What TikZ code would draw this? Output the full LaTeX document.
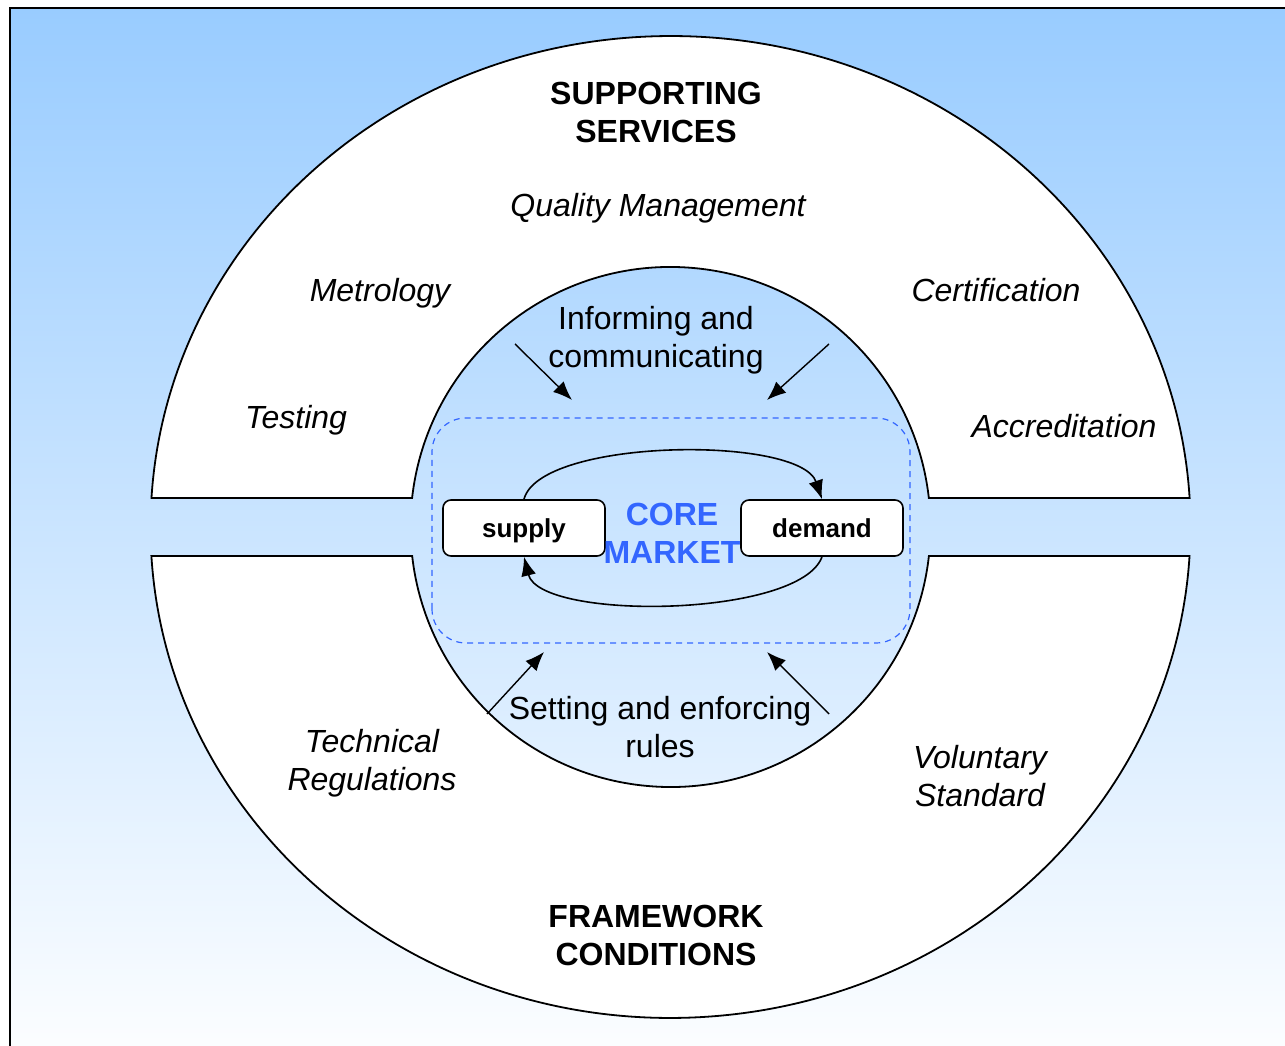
\documentclass[tikz,border=0pt]{standalone}
\usepackage{fontspec}
\setmainfont{Liberation Sans}
\usetikzlibrary{arrows.meta}
\definecolor{skytop}{HTML}{99CCFF}
\definecolor{coreblue}{HTML}{3366FF}
\begin{document}
\begin{tikzpicture}[x=0.5pt,y=0.5pt,
  lbl/.style={font=\fontsize{16}{19}\selectfont, align=center, inner sep=0pt},
  itlbl/.style={lbl, font=\fontsize{16}{19}\selectfont\itshape},
  head/.style={lbl, font=\fontsize{16}{19}\selectfont\bfseries},
  marketbox/.style={draw, fill=white, line width=0.8pt, rounded corners=4pt,
    minimum width=81pt, minimum height=28pt, inner sep=0pt,
    text height=9.4pt, text depth=0pt,
    font=\fontsize{13}{15}\selectfont\bfseries},
  ring/.style={fill=white, draw=black, line width=0.9pt},
  influence/.style={line width=0.7pt, -{Latex[length=9.5pt,width=7.5pt]}},
  flow/.style={line width=0.8pt, -{Latex[length=9.5pt,width=7.5pt]}}]
\useasboundingbox (0,0) rectangle (1285,1045);
\clip (0,0) rectangle (1285,1045);
\fill[white] (0,0) rectangle (1285,1045);

% sky background panel
\shade[top color=skytop, bottom color=white] (10,-40) rectangle (1320,1037);
\draw[line width=1.2pt] (10,-40) rectangle (1320,1037);

% upper half ring: supporting services
\path[ring] (1189.6,547) arc[start angle=3.39, end angle=176.61, x radius=520, y radius=491]
  -- (412.1,547) arc[start angle=173.6, end angle=6.4, radius=260] -- cycle;
% lower half ring: framework conditions
\path[ring] (151.4,489) arc[start angle=183.39, end angle=356.61, x radius=520, y radius=491]
  -- (928.9,489) arc[start angle=353.6, end angle=186.4, radius=260] -- cycle;

% core market frame
\draw[coreblue, line width=0.6pt, dash pattern=on 3pt off 2.5pt, rounded corners=17pt]
  (432,402) rectangle (910,627);

% supply and demand
\node[marketbox] (supply) at (524,517) {supply};
\node[marketbox] (demand) at (822,517) {demand};
\node[head, text=coreblue] (core) at (672,512) {CORE\\MARKET};

\draw[flow] (supply.north) .. controls (540,607) and (800,610) .. (demand.north);
\draw[flow] (demand.south) .. controls (800,427) and (540,424) .. (supply.south);

% labels
\node[head] (supp) at (656,933) {SUPPORTING\\SERVICES};
\node[itlbl] (qm) at (658,837) {Quality Management};
\node[itlbl] (metro) at (380,752) {Metrology};
\node[itlbl] (cert) at (996,755) {Certification};
\node[itlbl] (test) at (296,625) {Testing};
\node[itlbl] (accr) at (1064,619) {Accreditation};
\node[lbl] (inform) at (656,705) {Informing and\\communicating};
\node[lbl] (rules) at (660,318) {Setting and enforcing\\rules};
\node[itlbl] (techreg) at (372,282) {Technical\\Regulations};
\node[itlbl] (volstd) at (980,269) {Voluntary\\Standard};
\node[head] (frame) at (656,110) {FRAMEWORK\\CONDITIONS};

% influence arrows
\coordinate (i1s) at (515,701);
\coordinate (i1e) at (572,645);
\coordinate (i2s) at (829,701);
\coordinate (i2e) at (767,645);
\coordinate (r1s) at (487,331);
\coordinate (r1e) at (544,393);
\coordinate (r2s) at (829,331);
\coordinate (r2e) at (767,393);
\draw[influence] (i1s) -- (i1e);
\draw[influence] (i2s) -- (i2e);
\draw[influence] (r1s) -- (r1e);
\draw[influence] (r2s) -- (r2e);
\end{tikzpicture}
\end{document}
